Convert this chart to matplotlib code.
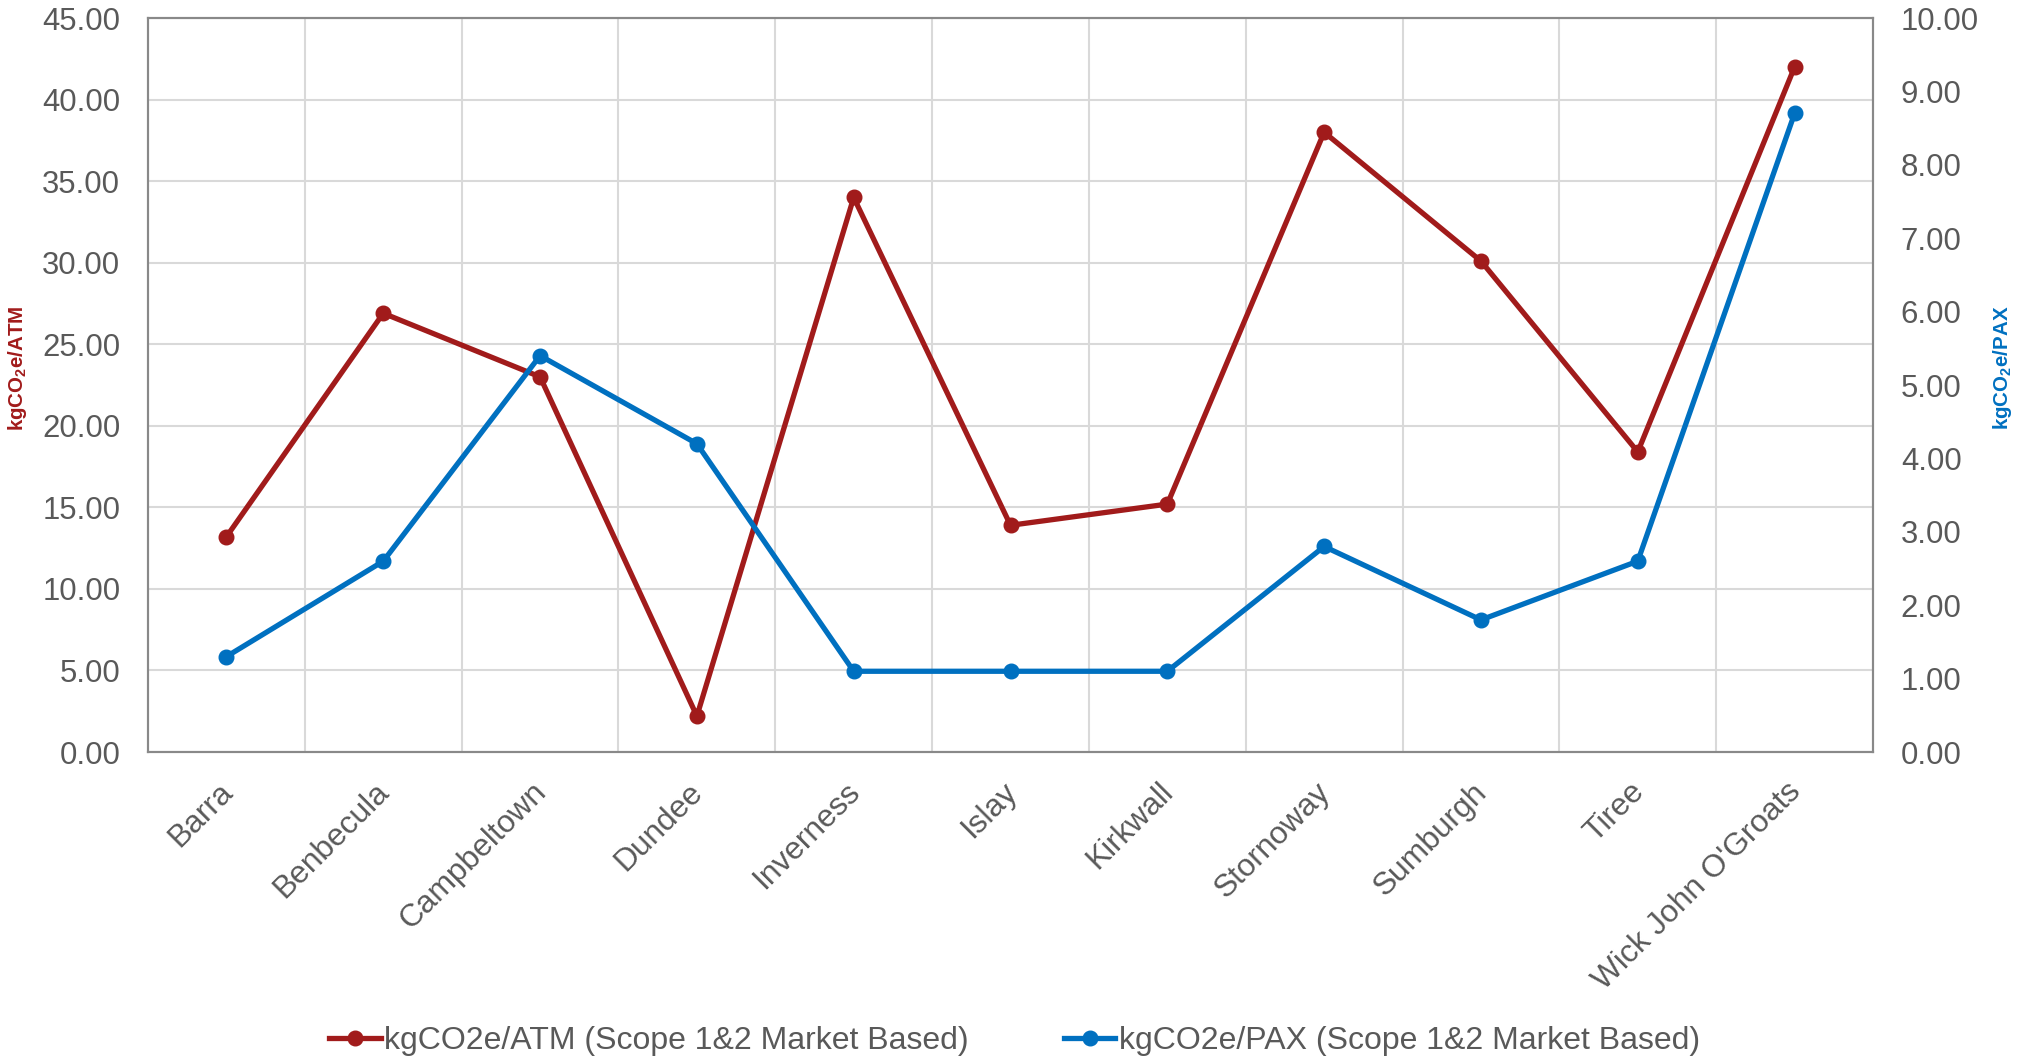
#!/usr/bin/env python3
"""Emissions per air traffic movement and per passenger, by airport."""

import matplotlib

matplotlib.use("Agg")
import matplotlib.pyplot as plt
from matplotlib.ticker import FormatStrFormatter, MultipleLocator
from matplotlib.transforms import ScaledTranslation

airports = [
    "Barra", "Benbecula", "Campbeltown", "Dundee", "Inverness", "Islay",
    "Kirkwall", "Stornoway", "Sumburgh", "Tiree", "Wick John O'Groats",
]
kg_per_atm = [13.2, 26.9, 23.0, 2.2, 34.0, 13.9, 15.2, 38.0, 30.1, 18.4, 42.0]
kg_per_pax = [1.3, 2.6, 5.4, 4.2, 1.1, 1.1, 1.1, 2.8, 1.8, 2.6, 8.7]

RED = "#A11B1B"
BLUE = "#0070C0"
GREY_TEXT = "#595959"
GRID = "#D9D9D9"
SPINE = "#898989"

plt.rcParams["font.family"] = ["Liberation Sans", "DejaVu Sans"]
plt.rcParams["mathtext.fontset"] = "custom"
plt.rcParams["mathtext.rm"] = "Liberation Sans"
plt.rcParams["mathtext.bf"] = "Liberation Sans:bold"

fig = plt.figure(figsize=(20.17, 10.62), dpi=100)
ax = fig.add_axes([0.0734, 0.2919, 0.8552, 0.6911])
ax2 = ax.twinx()

x = list(range(len(airports)))
ax.plot(x, kg_per_atm, color=RED, linewidth=3.8, marker="o", markersize=10.5,
        label="kgCO2e/ATM (Scope 1&2 Market Based)", zorder=3)
ax2.plot(x, kg_per_pax, color=BLUE, linewidth=3.8, marker="o", markersize=10.5,
         label="kgCO2e/PAX (Scope 1&2 Market Based)", zorder=3)

ax.set_xlim(-0.5, len(airports) - 0.5)
ax.set_ylim(0, 45)
ax2.set_ylim(0, 10)
ax.yaxis.set_major_locator(MultipleLocator(5))
ax2.yaxis.set_major_locator(MultipleLocator(1))
ax.yaxis.set_major_formatter(FormatStrFormatter("%.2f"))
ax2.yaxis.set_major_formatter(FormatStrFormatter("%.2f"))

# category gridlines sit between the points
ax.set_xticks([i + 0.5 for i in x[:-1]], minor=True)
ax.grid(True, which="minor", axis="x", color=GRID, linewidth=1.5)
ax.grid(True, which="major", axis="y", color=GRID, linewidth=1.5)
ax.set_axisbelow(True)

ax.set_xticks(x)
ax.set_xticklabels(airports, rotation=45, ha="right", va="top", rotation_mode="anchor")
ax.tick_params(axis="x", which="both", length=0, pad=18, labelsize=22.8, labelcolor=GREY_TEXT)
ax.tick_params(axis="y", length=0, pad=20, labelsize=22.4, labelcolor=GREY_TEXT)
ax2.tick_params(axis="y", length=0, pad=20, labelsize=22.4, labelcolor=GREY_TEXT)

shift = ScaledTranslation(-0.09, 0, fig.dpi_scale_trans)
for label in ax.get_xticklabels():
    label.set_transform(label.get_transform() + shift)

for a in (ax, ax2):
    for spine in a.spines.values():
        spine.set_color(SPINE)
        spine.set_linewidth(1.5)

fig.text(0.0089, 0.6535, r"kgCO$_\mathbf{2}$e/ATM", rotation=90, color=RED,
         fontsize=14.8, fontweight="bold", ha="center", va="center")
fig.text(0.993, 0.6535, r"kgCO$_\mathbf{2}$e/PAX", rotation=90, color=BLUE,
         fontsize=14.8, fontweight="bold", ha="center", va="center")

handles = ax.get_lines() + ax2.get_lines()
fig.legend(handles, [h.get_label() for h in handles], loc="center",
           bbox_to_anchor=(0.503, 0.0198), ncol=2, frameon=False,
           fontsize=23, labelcolor=GREY_TEXT, handlelength=1.6,
           handletextpad=0.1, columnspacing=3.0, borderpad=0, borderaxespad=0)

fig.savefig("out.png", dpi=100)
